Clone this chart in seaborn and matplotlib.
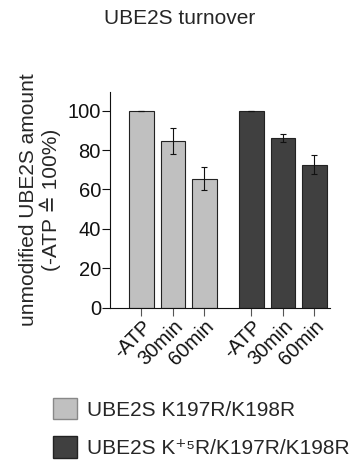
import matplotlib
matplotlib.use("Agg")
import matplotlib.pyplot as plt
import seaborn as sns
import pandas as pd
import numpy as np

# ---- data ----
conditions = ["-ATP", "30min", "60min", "-ATP", "30min", "60min"]
positions = [0, 1, 2, 3.5, 4.5, 5.5]
groups = ["UBE2S K197R/K198R"] * 3 + ["UBE2S K\u207a\u2075R/K197R/K198R"] * 3
values = [100, 84.4, 65.5, 100, 86.1, 72.6]
errors = [0, 6.6, 5.7, 0, 2.2, 4.8]
yticks = [0, 20, 40, 60, 80, 100]

df = pd.DataFrame({"pos": positions, "value": values, "group": groups,
                   "cond": conditions, "err": errors})

sns.set_style("ticks")
plt.rcParams["font.family"] = ["Liberation Sans", "DejaVu Sans"]

W, H = 351, 465
fig = plt.figure(figsize=(W / 100, H / 100), dpi=100)
ax = fig.add_axes([110 / W, 1 - 307.7 / H, 220 / W, 216 / H])

palette = {groups[0]: "#c0c0c0", groups[3]: "#404040"}
sns.barplot(data=df, x="pos", y="value", hue="group", palette=palette,
            native_scale=True, dodge=False, width=0.78, ax=ax,
            edgecolor="#222222", linewidth=0.8, saturation=1, errorbar=None)

ax.errorbar(df["pos"], df["value"], yerr=df["err"], fmt="none",
            ecolor="#111111", elinewidth=0.8, capsize=2.0, capthick=0.8)

ax.set_xlim(-1, 6)
ax.set_ylim(0, 109.6)
ax.set_yticks(yticks)
ax.set_yticklabels([str(t) for t in yticks], fontsize=14.5)
ax.set_xticks(positions)
ax.set_xticklabels(conditions, rotation=45, ha="right", rotation_mode="anchor",
                   fontsize=14.5)
ax.tick_params(axis="y", length=5.5, width=0.8, pad=1, colors="#111111")
ax.tick_params(axis="x", length=5.5, width=0.8, pad=1, color="#555555",
               labelcolor="#111111")
ax.set_xlabel("")
ax.set_ylabel("unmodified UBE2S amount\n(-ATP \u2259 100%)", fontsize=15,
              linespacing=1.1)
ax.yaxis.set_label_coords(-0.223, 0.5)
for s in ["top", "right"]:
    ax.spines[s].set_visible(False)
for s in ["left", "bottom"]:
    ax.spines[s].set_linewidth(0.8)
    ax.spines[s].set_color("#111111")

fig.text(180 / W, 1 - 24 / H, "UBE2S turnover", ha="center", va="baseline",
         fontsize=15)

sns.move_legend(ax, "upper left", bbox_to_anchor=(53 / W, 1 - 398 / H),
                bbox_transform=fig.transFigure, frameon=False, title=None,
                fontsize=15, handlelength=1.15, handleheight=1.2,
                handletextpad=0.5, labelspacing=0.8, borderpad=0,
                borderaxespad=0)
leg = ax.get_legend()
for h, ec in zip(leg.legend_handles, ["#888888", "#222222"]):
    h.set_edgecolor(ec)
    h.set_linewidth(1.0)

fig.savefig("out.png", dpi=100)
